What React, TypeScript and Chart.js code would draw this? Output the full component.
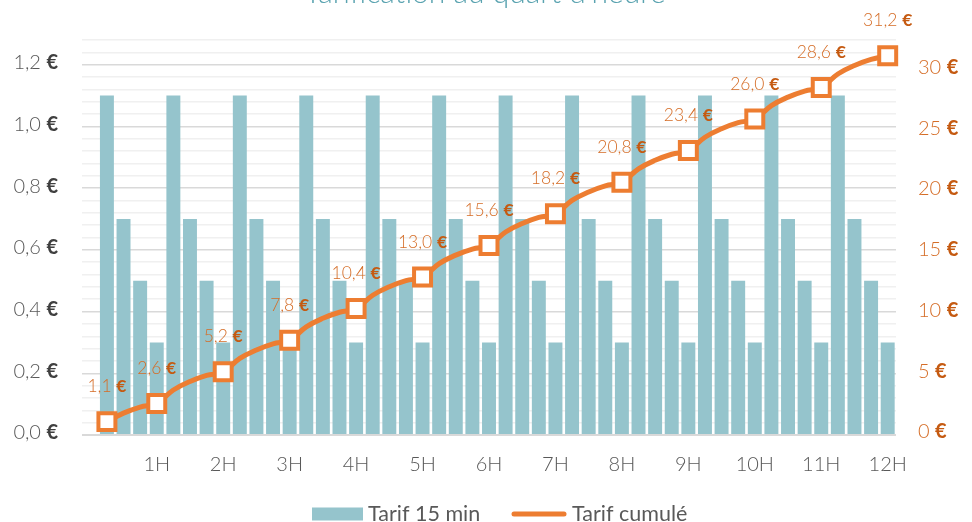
import { useEffect, useRef } from "react";
import { Chart, registerables } from "chart.js";
Chart.register(...registerables);

const categories = [
  "", "", "", "", "1H", "", "", "", "2H", "", "", "", "3H", "", "", "", "4H",
  "", "", "", "5H", "", "", "", "6H", "", "", "", "7H", "", "", "", "8H",
  "", "", "", "9H", "", "", "", "10H", "", "", "", "11H", "", "", "", "12H",
];
const tarif15min = [
  null, 1.1, 0.7, 0.5, 0.3, 1.1, 0.7, 0.5, 0.3, 1.1, 0.7, 0.5, 0.3,
  1.1, 0.7, 0.5, 0.3, 1.1, 0.7, 0.5, 0.3, 1.1, 0.7, 0.5, 0.3,
  1.1, 0.7, 0.5, 0.3, 1.1, 0.7, 0.5, 0.3, 1.1, 0.7, 0.5, 0.3,
  1.1, 0.7, 0.5, 0.3, 1.1, 0.7, 0.5, 0.3, 1.1, 0.7, 0.5, 0.3,
];
const tarifCumule = [
  null, 1.1, 1.8, 2.3, 2.6, 3.7, 4.4, 4.9, 5.2, 6.3, 7.0, 7.5, 7.8,
  8.9, 9.6, 10.1, 10.4, 11.5, 12.2, 12.7, 13.0, 14.1, 14.8, 15.3, 15.6,
  16.7, 17.4, 17.9, 18.2, 19.3, 20.0, 20.5, 20.8, 21.9, 22.6, 23.1, 23.4,
  24.5, 25.2, 25.7, 26.0, 27.1, 27.8, 28.3, 28.6, 29.7, 30.4, 30.9, 31.2,
];
// points that carry a marker and a value label (first quarter, then every full hour)
const markedPoints = [
  false, true, false, false, true, false, false, false, true, false, false, false, true,
  false, false, false, true, false, false, false, true, false, false, false, true,
  false, false, false, true, false, false, false, true, false, false, false, true,
  false, false, false, true, false, false, false, true, false, false, false, true,
];
const leftTickValues = [0, 0.2, 0.4, 0.6, 0.8, 1.0, 1.2];
const rightTickValues = [0, 5, 10, 15, 20, 25, 30];
const titleText = "Tarification au quart d'heure";
const seriesNames = ["Tarif 15 min", "Tarif cumulé"];

const BAR = "#95c4cc";
const LINE = "#ed7d31";
const LABEL = "#d56d27";
const LABEL_EURO = "#c55a11";
const GRAY = "#595959";
const FONT = "Lato";

const fmt = (v: number, d: number) => v.toFixed(d).replace(".", ",");

function drawEuro(
  ctx: CanvasRenderingContext2D,
  num: string,
  x: number,
  y: number,
  align: "left" | "right" | "center",
  size: number,
  color: string,
  euroColor: string
) {
  const numFont = `300 ${size}px ${FONT}`;
  const euroFont = `bold ${size}px ${FONT}`;
  ctx.font = numFont;
  const nw = ctx.measureText(num + " ").width;
  ctx.font = euroFont;
  const ew = ctx.measureText("€").width;
  const start = align === "right" ? x - nw - ew : align === "center" ? x - (nw + ew) / 2 : x;
  ctx.textAlign = "left";
  ctx.textBaseline = "middle";
  ctx.font = numFont;
  ctx.fillStyle = color;
  ctx.fillText(num + " ", start, y);
  ctx.font = euroFont;
  ctx.fillStyle = euroColor;
  ctx.fillText("€", start + nw, y);
}

const overlay = {
  id: "overlay",
  afterDatasetsDraw(chart: any) {
    const ctx = chart.ctx as CanvasRenderingContext2D;
    const meta = chart.getDatasetMeta(1);
    ctx.save();
    meta.data.forEach((pt: any, i: number) => {
      const v = tarifCumule[i];
      if (v == null || !markedPoints[i]) return;
      drawEuro(ctx, fmt(v, 1), pt.x, pt.y - 35, "center", 17.5, LABEL, LABEL_EURO);
    });
    ctx.restore();
  },
  afterDraw(chart: any) {
    const ctx = chart.ctx as CanvasRenderingContext2D;
    const y = chart.scales.y;
    const y2 = chart.scales.y2;
    ctx.save();
    leftTickValues.forEach((v) => {
      drawEuro(ctx, fmt(v, 1), 58, y.getPixelForValue(v) - 2, "right", 20, GRAY, "#404040");
    });
    rightTickValues.forEach((v) => {
      drawEuro(ctx, String(v), 918, y2.getPixelForValue(v) - 3, "left", 20, LABEL, LABEL_EURO);
    });
    // title
    ctx.font = `300 30px ${FONT}`;
    ctx.fillStyle = "#5aa3b0";
    ctx.textAlign = "center";
    ctx.textBaseline = "alphabetic";
    ctx.fillText(titleText, 485, 3);
    // legend
    const ly = 514;
    ctx.font = `21.5px ${FONT}`;
    ctx.textBaseline = "middle";
    ctx.textAlign = "left";
    ctx.fillStyle = BAR;
    ctx.fillRect(312, ly - 6.5, 51, 13);
    ctx.fillStyle = GRAY;
    ctx.fillText(seriesNames[0], 368, ly);
    ctx.strokeStyle = LINE;
    ctx.lineWidth = 5;
    ctx.lineCap = "round";
    ctx.beginPath();
    ctx.moveTo(514, ly);
    ctx.lineTo(564, ly);
    ctx.stroke();
    ctx.fillStyle = GRAY;
    ctx.fillText(seriesNames[1], 572, ly);
    ctx.restore();
  },
};

export default function App() {
  const ref = useRef<HTMLCanvasElement>(null);
  useEffect(() => {
    if (!ref.current) return;
    const markerRadius = (c: any) => (markedPoints[c.dataIndex] ? 12 : 0);
    const chart = new Chart(ref.current, {
      type: "bar",
      data: {
        labels: categories,
        datasets: [
          {
            type: "bar",
            label: seriesNames[0],
            data: tarif15min as any,
            backgroundColor: BAR,
            barPercentage: 0.84,
            categoryPercentage: 1,
            yAxisID: "y",
            order: 1,
          },
          {
            type: "line",
            label: seriesNames[1],
            data: tarifCumule as any,
            borderColor: LINE,
            borderWidth: 5,
            tension: 0.4,
            spanGaps: true,
            pointStyle: "rect",
            pointRadius: markerRadius,
            pointHoverRadius: markerRadius,
            pointBackgroundColor: "#ffffff",
            pointBorderColor: LINE,
            pointBorderWidth: 4,
            yAxisID: "y2",
            order: 0,
          } as any,
        ],
      },
      options: {
        animation: false,
        responsive: false,
        maintainAspectRatio: false,
        layout: { padding: { top: 40, left: 0, right: 0, bottom: 0 } },
        plugins: { legend: { display: false }, tooltip: { enabled: false }, title: { display: false } },
        scales: {
          x: {
            grid: { display: false, drawTicks: false },
            border: { display: false },
            ticks: {
              autoSkip: false,
              maxRotation: 0,
              minRotation: 0,
              padding: 18,
              color: GRAY,
              font: { family: FONT, size: 20, weight: 300 as any },
            },
            afterFit: (s: any) => {
              s.height = 87;
            },
          },
          y: {
            position: "left",
            min: 0,
            max: 1.28,
            ticks: { display: false, stepSize: 0.04 },
            border: { display: false },
            grid: {
              drawTicks: false,
              color: (c: any) => {
                const v = c.tick ? c.tick.value : 0;
                return Math.abs(v / 0.2 - Math.round(v / 0.2)) < 1e-6 ? "#d9d9d9" : "#f0f0f0";
              },
              lineWidth: (c: any) => {
                const v = c.tick ? c.tick.value : 0;
                return Math.abs(v) < 1e-6 ? 2 : 1.5;
              },
            },
            afterFit: (s: any) => {
              s.width = 82;
            },
          },
          y2: {
            position: "right",
            min: 0,
            max: 32.5,
            ticks: { display: false, stepSize: 5 },
            border: { display: false },
            grid: { display: false, drawTicks: false },
            afterFit: (s: any) => {
              s.width = 76;
            },
          },
        },
      },
      plugins: [overlay],
    });
    return () => chart.destroy();
  }, []);
  return (
    <div style={{ position: "fixed", left: 0, top: 0, width: 972, height: 522, background: "#fff" }}>
      <canvas ref={ref} width={972} height={522} />
    </div>
  );
}
